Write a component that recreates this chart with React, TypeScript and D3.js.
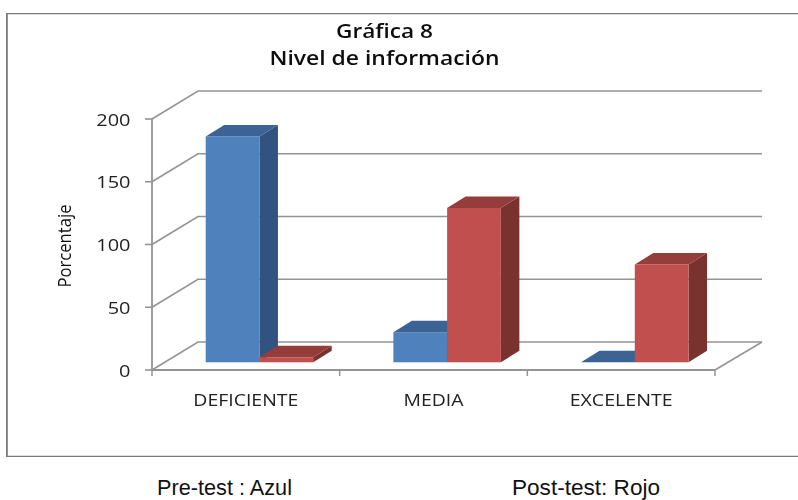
import React from "react";
import * as d3 from "d3";

const categories = ["DEFICIENTE", "MEDIA", "EXCELENTE"];
const seriesNames = ["Pre-test", "Post-test"];
const preTest = [180, 24, 0];
const postTest = [4, 123, 78];
const yTicks = [0, 50, 100, 150, 200];
const titleLines = ["Gráfica 8", "Nivel de información"];
const titleLengths = [97, 230];
const categoryLengths = [105, 60, 103];
const frontColors = ["#4F81BD", "#C0504D"];
const topColors = ["#3C6494", "#943C3A"];
const sideColors = ["#335380", "#7A302E"];

const W = 798, H = 500;
const plot = { left: 152, right: 715, top: 119, bottom: 370 };
const wall = { dx: 46, dy: -28 };
const barBase = { dx: 13.7, dy: -7.7 };
const depth = { dx: 18.5, dy: -11.5 };

const y = d3.scaleLinear().domain([0, 200]).range([plot.bottom, plot.top]);
const x0 = d3.scaleBand<string>().domain(categories).range([plot.left, plot.right]);
const x1 = d3.scaleBand<string>().domain(seriesNames).range([40, 147.5]);
const pts = (p: [number, number][]) => p.map((a) => a.join(",")).join(" ");
const gridColor = "#949494";

export default function App() {
  const values = [preTest, postTest];
  const tickX = [...categories.map((c) => x0(c)!), plot.right];
  return (
    <svg width={W} height={H} style={{ position: "absolute", left: 0, top: 0, background: "#fff" }}>
      <defs>
        <filter id="soft" x="0" y="0" width="100%" height="100%">
          <feGaussianBlur stdDeviation="0.45" />
        </filter>
      </defs>
      <g filter="url(#soft)">
        <path d={`M798,13 H6.5 V457 H798`} fill="none" stroke="#7a7a7a" strokeWidth={2.6} />
        {yTicks.map((t) => (
          <g key={t} stroke={gridColor} strokeWidth={1.6} fill="none">
            <polyline points={pts([[plot.left, y(t)], [plot.left + wall.dx, y(t) + wall.dy], [plot.right + wall.dx + 1, y(t) + wall.dy]])} />
            <line x1={plot.left - 7} x2={plot.left} y1={y(t)} y2={y(t)} />
          </g>
        ))}
        <line x1={plot.left} x2={plot.left} y1={plot.top} y2={plot.bottom} stroke={gridColor} strokeWidth={1.8} />
        <line x1={plot.left} x2={plot.right} y1={plot.bottom} y2={plot.bottom} stroke={gridColor} strokeWidth={1.8} />
        <line x1={plot.right} x2={plot.right + wall.dx + 1} y1={plot.bottom} y2={plot.bottom + wall.dy} stroke={gridColor} strokeWidth={1.5} />
        {tickX.map((tx) => (
          <line key={tx} x1={tx} x2={tx} y1={plot.bottom} y2={plot.bottom + 6} stroke={gridColor} strokeWidth={1.5} />
        ))}
        {categories.map((c, i) =>
          seriesNames.map((s, k) => {
            const l = x0(c)! + x1(s)! + barBase.dx;
            const r = l + x1.bandwidth();
            const b = plot.bottom + barBase.dy;
            const t = y(values[k][i]) + barBase.dy;
            return (
              <g key={c + s}>
                <polygon points={pts([[r, t], [r + depth.dx, t + depth.dy], [r + depth.dx, b + depth.dy], [r, b]])} fill={sideColors[k]} />
                <polygon points={pts([[l, t], [l + depth.dx, t + depth.dy], [r + depth.dx, t + depth.dy], [r, t]])} fill={topColors[k]} />
                <rect x={l} y={t} width={r - l} height={b - t} fill={frontColors[k]} />
              </g>
            );
          })
        )}
        <g fontFamily="'Open Sans'" fill="#111">
          {titleLines.map((line, i) => (
            <text key={line} x={384.5} y={37.5 + i * 27.5} textAnchor="middle" fontSize={20} fontWeight={600}
              textLength={titleLengths[i]} lengthAdjust="spacingAndGlyphs">
              {line}
            </text>
          ))}
          {yTicks.map((t) => {
            const s = String(t);
            return (
              <text key={t} x={130.5} y={y(t) + 6.5} textAnchor="end" fontSize={16} fill="#222"
                textLength={s.length * 11.4} lengthAdjust="spacingAndGlyphs">
                {s}
              </text>
            );
          })}
          {categories.map((c, i) => (
            <text key={c} x={x0(c)! + x0.bandwidth() / 2} y={405.5} textAnchor="middle" fontSize={15.5} fill="#222"
              textLength={categoryLengths[i]} lengthAdjust="spacingAndGlyphs">
              {c}
            </text>
          ))}
          <text transform="translate(71,246) rotate(-90)" textAnchor="middle" fontSize={18}
            textLength={83} lengthAdjust="spacingAndGlyphs">
            Porcentaje
          </text>
        </g>
      </g>
      <g fontFamily="'Liberation Sans'" fontSize={22} fill="#111">
        <text x={157} y={495} textLength={135} lengthAdjust="spacingAndGlyphs">Pre-test : Azul</text>
        <text x={512} y={495} textLength={148} lengthAdjust="spacingAndGlyphs">Post-test: Rojo</text>
      </g>
    </svg>
  );
}
